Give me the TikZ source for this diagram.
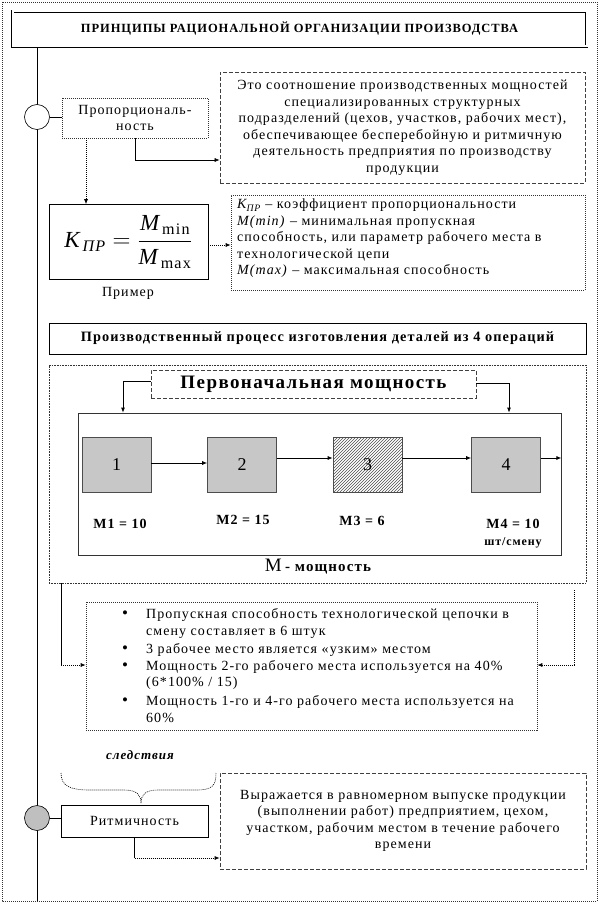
\documentclass[tikz,border=0pt]{standalone}
\usepackage{fontspec}
\setmainfont{Liberation Serif}[LetterSpace=7.5]
\newfontfamily\plainserif{Liberation Serif}
\usepackage{amsmath}
\usetikzlibrary{arrows.meta,patterns,calc}
\begin{document}
\begin{tikzpicture}[x=1pt,y=-1pt,
  txt/.style={font=\fontsize{14}{16.5}\selectfont},
  bx/.style={draw=black, line width=0.6pt, inner sep=0pt},
  dotbx/.style={draw=black!80, line width=0.6pt, dash pattern=on 1pt off 1pt, inner sep=0pt},
  dashbx/.style={draw=black!75, line width=0.7pt, dash pattern=on 4pt off 2pt, inner sep=0pt},
  dotln/.style={line width=0.7pt, dash pattern=on 1pt off 1pt},
  arr/.style={-{Latex[length=5pt,width=4pt]}},
  sq/.style={draw=black!70, line width=0.6pt, fill=black!22, minimum width=69pt, minimum height=55pt, font=\fontsize{18}{18}\selectfont},
  ml/.style={font=\fontsize{14}{14}\selectfont\bfseries},
  litem/.style={txt, anchor=west, inner sep=0pt},
  bul/.style={font=\plainserif\fontsize{17}{17}\selectfont, inner sep=0pt}
]
\useasboundingbox (0,0) rectangle (599,904);
% outer frame
\draw[dotln, draw=black!80] (2,2) rectangle (597,901);
% title
\node[draw, line width=0.7pt, double, double distance=2pt, minimum width=574pt, minimum height=35pt, inner sep=0pt, font=\fontsize{12.5}{12.5}\selectfont\bfseries] (title) at (299.5,29) {ПРИНЦИПЫ РАЦИОНАЛЬНОЙ ОРГАНИЗАЦИИ ПРОИЗВОДСТВА};
% main line
\coordinate (lineend) at (37,901);
\draw[line width=0.6pt] (title.south -| 37,0) -- (lineend);
% circle 1
\node[draw, circle, minimum size=25pt, inner sep=0pt, fill=white, line width=0.6pt] (c1) at (37,117) {};
\node[dotbx, minimum width=146pt, minimum height=40pt, txt, align=center] (prop) at (135,118) {Пропорциональ-\\ность};
\draw[line width=0.6pt] (c1.east) -- (prop.west |- c1.east);
% def1
\node[dashbx, minimum width=365pt, minimum height=111pt, txt, align=center] (def1) at (402.5,127.5) {Это соотношение производственных мощностей\\специализированных структурных\\подразделений (цехов, участков, рабочих мест),\\обеспечивающее бесперебойную и ритмичную\\деятельность предприятия по производству\\продукции};
\draw[arr, line width=0.6pt] (prop.south) |- (def1.west |- 0,160);
% formula
\node[bx, minimum width=159pt, minimum height=75pt] (form) at (128.5,242) {\fontsize{23}{23}\selectfont $\textit{K}_{\,\textit{ПР}} = \dfrac{\textit{M}_{\,\text{min}}}{\textit{M}_{\,\text{max}}}$};
\draw[arr, dotln] (prop.south -| 86,0) -- (form.north -| 86,0);
\node[txt] (ex) at (128,293) {Пример};
% def2
\node[dotbx, minimum width=354pt, minimum height=95pt] (def2) at (408,242.5) {};
\node[txt, anchor=north west, align=left, inner sep=0pt] (def2t) at (237,199) {\textit{K\textsubscript{ПР}} – коэффициент пропорциональности\\\textit{M(min)} – минимальная пропускная\\способность, или параметр рабочего места в\\технологической цепи\\\textit{M(max)} – максимальная способность};
\draw[arr, dotln] (form.east |- 0,245) -- (def2.west |- 0,245);
% process heading
\node[bx, minimum width=537pt, minimum height=31pt, font=\fontsize{14.3}{14.3}\selectfont\bfseries] (proc) at (317.5,338.5) {Производственный процесс изготовления деталей из 4 операций};
% big box
\node[draw=black!80, line width=0.7pt, dash pattern=on 1pt off 0.6pt, minimum width=537pt, minimum height=218pt, inner sep=0pt] (big) at (317.5,474) {};
\node[dashbx, minimum width=325pt, minimum height=28pt, font=\fontsize{19}{19}\selectfont\bfseries] (perv) at (313.5,384) {Первоначальная мощность};
\node[draw=black!80, line width=0.8pt, minimum width=483pt, minimum height=142pt, inner sep=0pt] (inner) at (319.5,484) {};
\draw[arr, line width=0.8pt] (perv.west |- 0,381) -| (inner.north -| 123,0);
\draw[arr, line width=0.8pt] (perv.east |- 0,383) -| (inner.north -| 509,0);
% squares
\node[sq] (s1) at (116.5,464.5) {1};
\node[sq] (s2) at (242,464.5) {2};
\node[sq, fill=black!10, pattern=north east lines, pattern color=black!70] (s3) at (367.5,464.5) {};
\node[font=\fontsize{18}{18}\selectfont] (s3l) at (s3.center) {3};
\node[sq] (s4) at (506,464.5) {4};
\draw[arr, line width=0.8pt] (s1.east |- 0,463) -- (s2.west |- 0,463);
\draw[arr, line width=0.8pt] (s2.east |- 0,458) -- (s3.west |- 0,458);
\draw[arr, line width=0.8pt] (s3.east |- 0,458) -- (s4.west |- 0,458);
\draw[arr, line width=0.8pt] (s4.east |- 0,458) -- (inner.east |- 0,458);
\node[ml] (m1) at (120,524) {M1 = 10};
\node[ml] (m2) at (243,520) {M2 = 15};
\node[ml] (m3) at (362,521) {M3 = 6};
\node[ml] (m4) at (513,524) {M4 = 10};
\node[font=\fontsize{12}{12}\selectfont\bfseries] (unit) at (513,543) {шт/смену};
\node (mm) at (318,567) {{\fontsize{19}{19}\selectfont M} {\fontsize{15}{15}\selectfont\bfseries - мощность}};
% list
\node[dotbx, minimum width=451pt, minimum height=128pt] (list) at (311.5,666) {};
\coordinate (lA) at (61,583);
\coordinate (rA) at (574,590);
\draw[line width=0.6pt] (big.south -| lA) -- (lA |- 0,665);
\draw[arr, dotln] (lA |- 0,665) -- (list.west |- 0,665);
\draw[arr, dotln] (rA) |- (list.east |- 0,665);
\foreach \i/\y in {1/615,2/650,3/667,4/702} {\node[bul] (b\i) at (125,\y) {•};}
\node[litem] (l1) at (146,615) {Пропускная способность технологической цепочки в};
\node[litem] (l2) at (146,632) {смену составляет в 6 штук};
\node[litem] (l3) at (146,650) {3 рабочее место является «узким» местом};
\node[litem] (l4) at (146,667) {Мощность 2-го рабочего места используется на 40\%};
\node[litem] (l5) at (146,683) {(6*100\% / 15)};
\node[litem] (l6) at (146,702) {Мощность 1-го и 4-го рабочего места используется на};
\node[litem] (l7) at (146,718) {60\%};
% consequences
\node[font=\fontsize{13}{13}\selectfont\bfseries\itshape] (sl) at (140,755) {следствия};
\coordinate (brL) at (61,773);
\coordinate (brR) at (216,773);
\coordinate (brM) at (141,803);
\draw[dotln, line width=0.6pt] (brL) .. controls (61,786) and (70,790) .. (90,790) -- (124,790) .. controls (137,790) and (141,795) .. (brM) .. controls (141,795) and (145,790) .. (158,790) -- (196,790) .. controls (212,790) and (216,786) .. (brR);
\node[draw, circle, minimum size=25pt, inner sep=0pt, fill=black!25, line width=0.6pt] (c2) at (37,818) {};
\node[bx, minimum width=147pt, minimum height=32pt, txt] (ritm) at (134.5,821) {Ритмичность};
\draw[line width=0.6pt] (c2.east) -- (ritm.west |- c2.east);
\node[dashbx, minimum width=366pt, minimum height=96pt, txt, align=center] (def3) at (403,821) {Выражается в равномерном выпуске продукции\\(выполнении работ) предприятием, цехом,\\участком, рабочим местом в течение рабочего\\времени};
\draw[line width=0.6pt] (ritm.south) -- (ritm.south |- 0,858);
\draw[arr, dotln] (ritm.south |- 0,858) -- (def3.west |- 0,858);
\end{tikzpicture}
\end{document}
